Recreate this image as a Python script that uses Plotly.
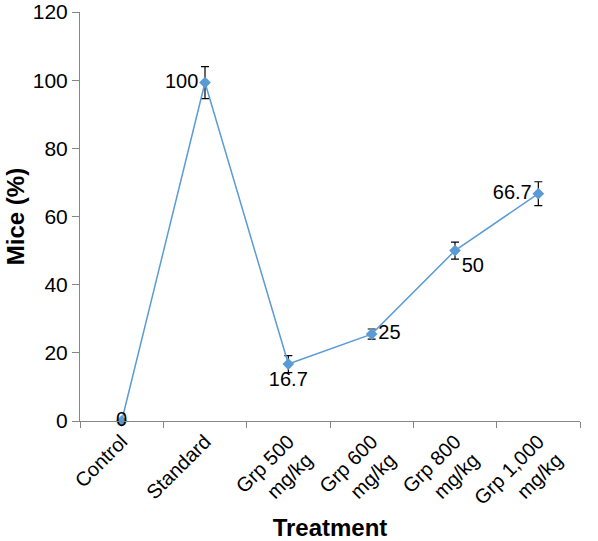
import plotly.graph_objects as go

categories = ["Control", "Standard", "Grp 500<br>mg/kg", "Grp 600<br>mg/kg", "Grp 800<br>mg/kg", "Grp 1,000<br>mg/kg"]
values = [0, 99.3, 16.7, 25.5, 50, 66.7]
labels = ["0", "100", "16.7", "25", "50", "66.7"]
errors = [None, 4.7, 2.5, 1.5, 2.5, 3.5]
label_pos = ["middle center", "middle left", "bottom center", "middle right", "bottom right", "middle left"]
y_ticks = [0, 20, 40, 60, 80, 100, 120]

axis_color = "#868686"
line_color = "#5B9BD5"
font_family = "Liberation Sans, Arial, sans-serif"

fig = go.Figure()
fig.add_trace(go.Scatter(
    x=categories, y=values, mode="lines+markers+text",
    text=labels, textposition=label_pos,
    textfont=dict(size=20, color="black", family=font_family),
    line=dict(color=line_color, width=1.5),
    marker=dict(symbol="diamond", size=9, color=line_color),
    error_y=dict(type="data", array=errors, visible=True, color="black", thickness=1.2, width=4),
    cliponaxis=False,
    showlegend=False,
))

fig.update_layout(
    width=598, height=541,
    margin=dict(l=80, r=18, t=12, b=120),
    paper_bgcolor="white", plot_bgcolor="white",
    font=dict(family=font_family, size=20, color="black"),
    xaxis=dict(
        type="category", tickson="boundaries", ticks="outside", ticklen=6,
        tickcolor=axis_color, showline=True, linecolor=axis_color, linewidth=1,
        showgrid=False, tickangle=-45, tickfont=dict(size=20),
        title=dict(text="<b>Treatment</b>", font=dict(size=24), standoff=2),
        range=[-0.5, 5.5], zeroline=False, automargin=False,
    ),
    yaxis=dict(
        range=[0, 120], tickmode="array", tickvals=y_ticks,
        ticks="outside", ticklen=7, tickcolor=axis_color,
        showline=True, linecolor=axis_color, linewidth=1, showgrid=False, zeroline=False,
        tickfont=dict(size=21), automargin=False, ticklabeloverflow="allow",
        title=dict(text="<b>Mice (%)</b>", font=dict(size=24), standoff=1),
    ),
)

fig.write_html("out.html", config={"displayModeBar": False},
               post_script="document.body.style.margin='0';")
